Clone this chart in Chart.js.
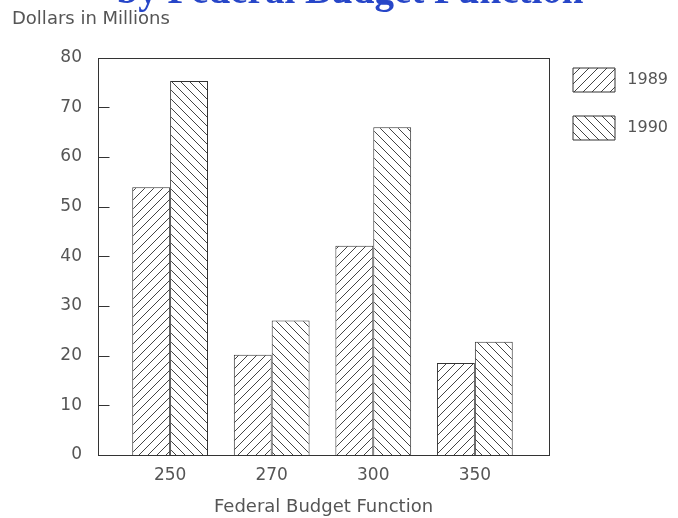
<!DOCTYPE html>
<html>
<head>
<meta charset="utf-8">
<script src="https://cdn.jsdelivr.net/npm/chart.js@4"></script>
<style>
body { margin: 0; background: #fff; }
#wrap { position: relative; width: 678px; height: 518px; overflow: hidden; }
canvas { position: absolute; left: 0; top: 0; }
#top-title { position: absolute; top: -30px; left: 0; width: 700px; text-align: center;
  font: bold 39px "Liberation Serif", serif; line-height: 39px; color: #2746c8; white-space: nowrap; }
</style>
</head>
<body>
<div id="wrap">
  <canvas id="chart" width="678" height="518"></canvas>
  <div id="top-title">by Federal Budget Function</div>
</div>
<script>
const ctx = document.getElementById('chart').getContext('2d');

// Data
const functions = ['250', '270', '300', '350'];
const years = ['1989', '1990'];
const values1989 = [53.9, 20.2, 42.1, 18.5];
const values1990 = [75.3, 27.1, 66.0, 22.8];
const yTicks = [0, 10, 20, 30, 40, 50, 60, 70, 80];

// hatch pattern, '/' or '\'
function hatch(dir) {
    const c = document.createElement('canvas');
    c.width = 9; c.height = 9;
    const g = c.getContext('2d');
    g.fillStyle = '#fff';
    g.fillRect(0, 0, 9, 9);
    g.strokeStyle = '#444';
    g.lineWidth = 1;
    g.beginPath();
    for (let k = -9; k <= 9; k += 9) {
        if (dir === '/') { g.moveTo(k, 9); g.lineTo(k + 9, 0); }
        else { g.moveTo(k, 0); g.lineTo(k + 9, 9); }
    }
    g.stroke();
    return ctx.createPattern(c, 'repeat');
}

// box round the plot area + short inward ticks on the y axis
const frame = {
    id: 'frame',
    afterDatasetsDraw(chart) {
        const a = chart.chartArea;
        const c = chart.ctx;
        const y = chart.scales.y;
        const left = Math.round(a.left) + 0.5;
        c.save();
        c.strokeStyle = '#333';
        c.lineWidth = 1;
        c.strokeRect(left, Math.round(a.top) + 0.5,
            Math.round(a.right - a.left), Math.round(a.bottom - a.top));
        c.beginPath();
        yTicks.forEach(v => {
            const py = Math.round(y.getPixelForValue(v)) + 0.5;
            c.moveTo(left, py);
            c.lineTo(left + 11, py);
        });
        c.stroke();
        c.restore();
    }
};

const toPoints = arr => arr.map((v, i) => ({ x: i + 1, y: v }));

Chart.defaults.font.family = '"DejaVu Sans", sans-serif';
Chart.defaults.color = '#555';

new Chart(ctx, {
    type: 'bar',
    data: {
        datasets: [
            { label: years[0], data: toPoints(values1989), backgroundColor: hatch('/'),
              borderColor: '#333', borderWidth: 1, categoryPercentage: 0.746, barPercentage: 1 },
            { label: years[1], data: toPoints(values1990), backgroundColor: hatch('\\'),
              borderColor: '#333', borderWidth: 1, categoryPercentage: 0.746, barPercentage: 1 }
        ]
    },
    options: {
        responsive: false,
        animation: false,
        layout: { padding: { left: 12, right: 10, top: 0, bottom: 0 } },
        scales: {
            x: {
                type: 'linear',
                offset: false,
                min: 0.29,
                max: 4.73,
                afterBuildTicks: s => { s.ticks = functions.map((f, i) => ({ value: i + 1 })); },
                ticks: { autoSkip: false, padding: 10, font: { size: 17 },
                         callback: v => functions[v - 1] },
                grid: { display: false, drawTicks: false },
                border: { display: false },
                title: { display: true, text: 'Federal Budget Function', font: { size: 18 },
                         padding: { top: 1, bottom: 0 } }
            },
            y: {
                min: 0,
                max: 80,
                afterBuildTicks: s => { s.ticks = yTicks.map(v => ({ value: v })); },
                afterFit: s => { s.width = 86; },
                ticks: { padding: 16, font: { size: 17 } },
                grid: { display: false, drawTicks: false },
                border: { display: false }
            }
        },
        plugins: {
            title: { display: true, text: 'Dollars in Millions', align: 'start',
                     font: { size: 18, weight: 'normal' }, padding: { top: 9, bottom: 27 } },
            legend: {
                position: 'right',
                align: 'start',
                maxWidth: 119,
                title: { display: true, text: '', font: { size: 10, lineHeight: 1 },
                         padding: { top: 34, bottom: 0 } },
                labels: { boxWidth: 42, boxHeight: 24, padding: 24, font: { size: 16 },
                          textAlign: 'right' }
            },
            tooltip: { enabled: false }
        }
    },
    plugins: [frame]
});
</script>
</body>
</html>
